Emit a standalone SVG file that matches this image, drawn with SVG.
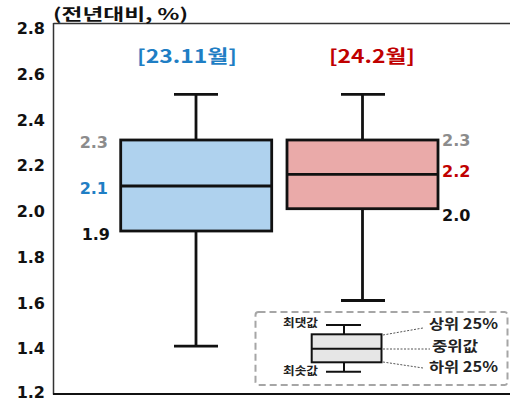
<svg xmlns="http://www.w3.org/2000/svg" width="510" height="402" viewBox="0 0 510 402">
<style>
.ax{font-family:"DejaVu Sans","Noto Sans CJK KR",sans-serif;font-weight:bold;font-size:16px;fill:#111;text-anchor:end}
.num{font-family:"DejaVu Sans","Noto Sans CJK KR",sans-serif;font-weight:bold;font-size:16px}
.kr{font-family:"Noto Sans CJK KR","DejaVu Sans",sans-serif;font-weight:bold}
.box{stroke:#111;stroke-width:2.8}
.wh{stroke:#111;stroke-width:2.8;fill:none}
.lg{stroke:#111;stroke-width:2;fill:none}
.lgbox{stroke:#111;stroke-width:2;fill:#e6e6e6}
.lead{stroke:#555;stroke-width:1;stroke-dasharray:2 1.5;fill:none}
</style>
<rect width="510" height="402" fill="#fff"/>
<g id="frame">
<line x1="53.5" y1="23.5" x2="510" y2="23.5" stroke="#333" stroke-width="1.5"/>
<line x1="53.5" y1="23" x2="53.5" y2="394.5" stroke="#333" stroke-width="1.5"/>
<line x1="53" y1="394" x2="510" y2="394" stroke="#111" stroke-width="2"/>
</g>
<g id="y-axis">
<text class="kr" x="53" y="20" font-size="16" fill="#111" textLength="135" lengthAdjust="spacingAndGlyphs">(전년대비, %)</text>
<text class="ax" x="45" y="34">2.8</text>
<text class="ax" x="45" y="80">2.6</text>
<text class="ax" x="45" y="126">2.4</text>
<text class="ax" x="45" y="171">2.2</text>
<text class="ax" x="45" y="217">2.0</text>
<text class="ax" x="45" y="263">1.8</text>
<text class="ax" x="45" y="309">1.6</text>
<text class="ax" x="45" y="354">1.4</text>
<text class="ax" x="45" y="398">1.2</text>
</g>
<g id="box-2311">
<text class="kr" x="137" y="63" font-size="18" fill="#1f7ec4" textLength="100" lengthAdjust="spacingAndGlyphs">[23.11월]</text>
<line class="wh" x1="196" y1="94.3" x2="196" y2="140"/>
<line class="wh" x1="174" y1="94.3" x2="218" y2="94.3"/>
<line class="wh" x1="196" y1="231" x2="196" y2="346.2"/>
<line class="wh" x1="174" y1="346.2" x2="218" y2="346.2"/>
<rect class="box" x="120.7" y="140" width="151" height="91" fill="#afd2ee"/>
<line class="wh" x1="120.7" y1="186" x2="271.7" y2="186"/>
<text class="num" x="108" y="148" text-anchor="end" fill="#8c8c8c">2.3</text>
<text class="num" x="108" y="194" text-anchor="end" fill="#1f7ec4">2.1</text>
<text class="num" x="110" y="240" text-anchor="end" fill="#111">1.9</text>
</g>
<g id="box-2402">
<text class="kr" x="329" y="63" font-size="18" fill="#c00000" textLength="86" lengthAdjust="spacingAndGlyphs">[24.2월]</text>
<line class="wh" x1="362.5" y1="94.3" x2="362.5" y2="140"/>
<line class="wh" x1="341" y1="94.3" x2="385" y2="94.3"/>
<line class="wh" x1="362.5" y1="208.7" x2="362.5" y2="300.5"/>
<line class="wh" x1="341" y1="300.5" x2="385" y2="300.5"/>
<rect class="box" x="287" y="140" width="151" height="68.7" fill="#eaaaa9"/>
<line class="wh" x1="287" y1="174.4" x2="438" y2="174.4"/>
<text class="num" x="442" y="146" fill="#8c8c8c">2.3</text>
<text class="num" x="442" y="177" fill="#c00000">2.2</text>
<text class="num" x="442" y="221" fill="#111">2.0</text>
</g>
<g id="legend">
<rect x="255.5" y="312" width="252" height="73" rx="3" fill="#fff" stroke="#a6a6a6" stroke-width="2" stroke-dasharray="7 4"/>
<line class="lg" x1="344" y1="325" x2="344" y2="334.3"/>
<line class="lg" x1="326" y1="325" x2="361" y2="325"/>
<line class="lg" x1="344" y1="362.3" x2="344" y2="371.7"/>
<line class="lg" x1="326" y1="371.7" x2="361" y2="371.7"/>
<rect class="lgbox" x="311.7" y="334.3" width="69.8" height="28"/>
<line class="lg" x1="311.7" y1="348.7" x2="381.5" y2="348.7"/>
<text class="kr" x="283" y="327" font-size="11" fill="#222" textLength="35" lengthAdjust="spacingAndGlyphs">최댓값</text>
<text class="kr" x="283" y="375" font-size="11" fill="#222" textLength="35" lengthAdjust="spacingAndGlyphs">최솟값</text>
<text class="kr" x="429" y="329" font-size="14" fill="#222" textLength="69" lengthAdjust="spacingAndGlyphs">상위 25%</text>
<text class="kr" x="432" y="350.5" font-size="14" fill="#222" textLength="46" lengthAdjust="spacingAndGlyphs">중위값</text>
<text class="kr" x="429" y="372" font-size="14" fill="#222" textLength="69" lengthAdjust="spacingAndGlyphs">하위 25%</text>
</g>
<g id="connectors">
<polyline class="lead" points="383,335 423,328"/>
<polyline class="lead" points="383,349 430,349"/>
<polyline class="lead" points="383,362 423,368"/>
</g>
</svg>
